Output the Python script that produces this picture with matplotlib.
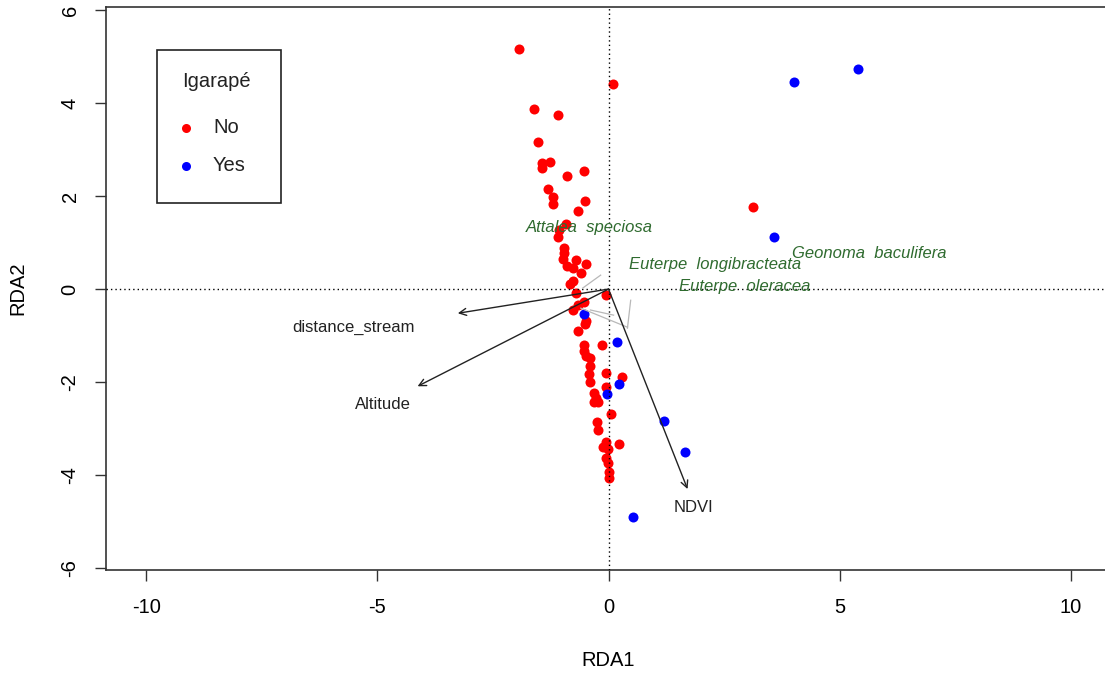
import numpy as np
import matplotlib
matplotlib.use('Agg')
import matplotlib.pyplot as plt
from matplotlib.patches import Rectangle

plt.rcParams['font.family'] = ['Liberation Sans', 'DejaVu Sans']
plt.rcParams['axes.unicode_minus'] = False

# site scores (RDA1, RDA2)
NO_X = [-1.94, 0.09, -1.62, -1.10, -1.53, -1.43, -1.27, -1.43, -0.89, -0.52,
        -1.30, -1.19, -1.19, -0.50, -0.67, -0.93, -1.08, -1.10, -0.97, -0.97,
        -0.99, -0.71, -0.48, -0.89, -0.76, -0.60, -0.76, -0.84, -0.71, -0.06,
        -0.54, -0.65, -0.76, -0.48, -0.50, -0.65, -0.54, -0.15, -0.54, -0.48,
        -0.41, -0.41, -0.43, -0.06, -0.39, 0.30, -0.06, -0.32, -0.28, -0.22,
        -0.32, 0.06, -0.24, -0.22, -0.06, -0.11, -0.02, 0.22, -0.06, -0.02,
        0.00, 0.02, 3.13]
NO_Y = [5.16, 4.41, 3.87, 3.74, 3.16, 2.71, 2.73, 2.60, 2.43, 2.54,
        2.15, 1.98, 1.83, 1.89, 1.68, 1.40, 1.27, 1.12, 0.88, 0.77,
        0.65, 0.62, 0.54, 0.49, 0.45, 0.34, 0.17, 0.11, -0.09, -0.13,
        -0.28, -0.34, -0.45, -0.69, -0.75, -0.90, -1.20, -1.20, -1.33, -1.44,
        -1.48, -1.66, -1.83, -1.81, -2.00, -1.89, -2.11, -2.24, -2.34, -2.43,
        -2.43, -2.69, -2.86, -3.03, -3.29, -3.40, -3.44, -3.33, -3.63, -3.74,
        -3.94, -4.06, 1.76]
YES_X = [-0.52, 0.19, 0.22, -0.04, 1.19, 1.66, 0.52, 3.59, 4.02, 5.40]
YES_Y = [-0.54, -1.14, -2.04, -2.26, -2.84, -3.51, -4.90, 1.12, 4.45, 4.73]

# environmental vectors: tip and label position
ENV_NAMES = ['distance_stream', 'Altitude', 'NDVI']
ENV_TIP = [(-3.26, -0.52), (-4.13, -2.09), (1.71, -4.30)]
ENV_LAB = [(-5.51, -0.82), (-4.88, -2.49), (1.84, -4.69)]

# species labels and the faint grey species segments
SPECIES = ['Attalea  speciosa', 'Euterpe  longibracteata',
           'Euterpe  oleracea', 'Geonoma  baculifera']
SPECIES_XY = [(-0.41, 1.33), (2.31, 0.52), (2.94, 0.06), (5.64, 0.77)]
SPECIES_SEG = [((-0.17, 0.30), (-0.56, 0.02)),
               ((-0.60, -0.41), (0.41, -0.82)),
               ((-0.39, -0.45), (0.11, -0.56)),
               ((0.48, -0.24), (0.41, -0.84))]

fig = plt.figure(figsize=(11.05, 6.74), dpi=100)
ax = fig.add_axes([106 / 1105, 104 / 674, 1005 / 1105, 563 / 674])
ax.set_xlim(-10.87, 10.87)
ax.set_ylim(-6.04, 6.065)

ax.scatter(NO_X, NO_Y, s=52, color='#ff0000', linewidths=0, zorder=2)
ax.scatter(YES_X, YES_Y, s=52, color='#0000ff', linewidths=0, zorder=2)

ax.axhline(0, color='black', ls=(0, (1, 2.2)), lw=1, zorder=3)
ax.axvline(0, color='black', ls=(0, (1, 2.2)), lw=1, zorder=3)

for (a, b) in SPECIES_SEG:
    ax.plot([a[0], b[0]], [a[1], b[1]], color='#b8b8b8', lw=0.9, zorder=3)

for name, tip, lab in zip(ENV_NAMES, ENV_TIP, ENV_LAB):
    ax.annotate('', xy=tip, xytext=(0, 0),
                arrowprops=dict(arrowstyle='->,head_length=0.5,head_width=0.25',
                                color='#222222', lw=1.0, shrinkA=0, shrinkB=0,
                                mutation_scale=10), zorder=4)
    ax.text(lab[0], lab[1], name, ha='center', va='center', fontsize=12,
            color='#222222', zorder=5)

for name, (x, y) in zip(SPECIES, SPECIES_XY):
    ax.text(x, y, name, ha='center', va='center', fontsize=12,
            style='italic', color='#2f6b2f', zorder=5)

# axes styling, R look
ax.set_xticks([-10, -5, 0, 5, 10])
ax.set_yticks([-6, -4, -2, 0, 2, 4, 6])
ax.tick_params(direction='out', length=8, width=1, labelsize=14.5, color='#333333')
ax.tick_params(axis='x', pad=12)
ax.tick_params(axis='y', pad=11)
for t in ax.get_yticklabels():
    t.set_rotation(90)
    t.set_va('center')
for s in ax.spines.values():
    s.set_linewidth(1.2)
    s.set_color('#333333')
ax.set_xlabel('RDA1', fontsize=14.5, va='center')
ax.set_ylabel('RDA2', fontsize=14.5, va='center')
ax.xaxis.set_label_coords(0.4995, -0.160)
ax.yaxis.set_label_coords(-0.0876, 0.5)

# legend box, drawn like R's legend()
ax.add_patch(Rectangle((0.0507, 0.6519), 0.1234, 0.2717, transform=ax.transAxes,
                       fill=False, edgecolor='#222222', lw=1.2, zorder=6))
ax.text(0.1095, 0.8668, 'Igarapé', transform=ax.transAxes, ha='center',
        va='center', fontsize=14.5, color='#222222', zorder=6)
for yy, lab, col in [(0.7851, 'No', '#ff0000'), (0.7176, 'Yes', '#0000ff')]:
    ax.plot([0.0796], [yy], 'o', color=col, ms=6.5, mec='none',
            transform=ax.transAxes, zorder=6)
    ax.text(0.1065, yy, lab, transform=ax.transAxes, ha='left', va='center',
            fontsize=14.5, color='#222222', zorder=6)

fig.savefig('out.png', dpi=100)
